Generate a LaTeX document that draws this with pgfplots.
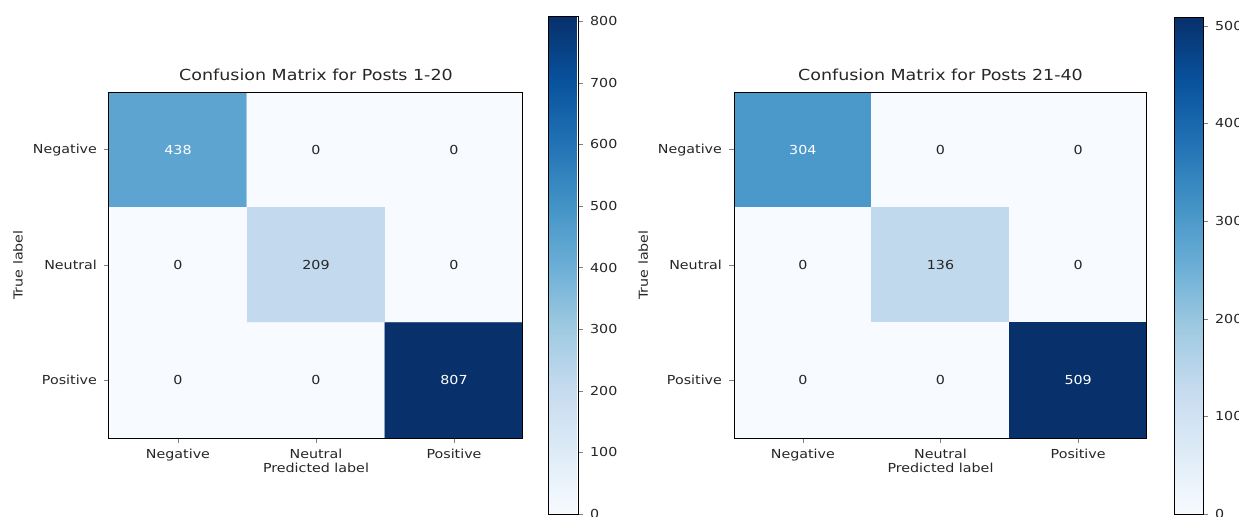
\documentclass[border=0pt]{standalone}
\usepackage{pgfplots}
\pgfplotsset{compat=1.18}
\usepackage{fontspec}
\setmainfont{DejaVu Sans}[FakeStretch=1.15]
\newcommand{\tickfont}{\fontsize{6.2}{7}\selectfont}
\newcommand{\titlefont}{\fontsize{7.6}{8.5}\selectfont}
\pgfplotsset{
  cmstyle/.style={
    scale only axis, width=207pt, height=173pt,
    xmin=-0.5, xmax=2.5, ymin=-0.5, ymax=2.5, y dir=reverse,
    enlargelimits=false, axis on top,
    xtick={0,1,2}, ytick={0,1,2},
    xticklabels={Negative,Neutral,Positive},
    yticklabels={Negative,Neutral,Positive},
    tick align=outside, tick pos=left, major tick length=2.5pt,
    tick label style={font=\tickfont, text=black!85},
    xticklabel style={yshift=0.5pt},
    /pgf/number format/assume math mode=true,
    xlabel={Predicted label}, ylabel={True label},
    label style={font=\tickfont, text=black!85},
    xlabel style={at={(axis description cs:0.5,-0.087)}, anchor=center},
    ylabel style={at={(axis description cs:-0.22,0.5)}, anchor=center},
    title style={font=\titlefont, text=black!85, at={(axis description cs:0.5,1)}, anchor=south, yshift=-4pt},
    axis line style={black, line width=0.5pt},
    colormap={blues}{rgb255=(247,251,255) rgb255=(222,235,247) rgb255=(198,219,239) rgb255=(158,202,225) rgb255=(107,174,214) rgb255=(66,146,198) rgb255=(33,113,181) rgb255=(8,81,156) rgb255=(8,48,107)},
    colorbar,
  },
  cbstyle/.style={
    at={(parent axis.south east)}, anchor=south west,
    xshift=#1, yshift=-38pt,
    scale only axis, height=248.5pt,
    ytick pos=right, yticklabel pos=right,
    tick align=outside, major tick length=2.5pt,
    yticklabel style={font=\tickfont, text=black!85},
    /pgf/number format/assume math mode=true,
    axis line style={black, line width=0.5pt},
  },
  celltxt/.style={draw=none, mark=none, nodes near coords, point meta=explicit symbolic,
    nodes near coords align=center,
    every node near coord/.append style={font=\tickfont, text=#1, anchor=center}},
}
\begin{document}
\begin{tikzpicture}
\useasboundingbox (0,0) rectangle (619.5pt,258pt);
% Left matrix
\begin{axis}[cmstyle, at={(54.5pt,39pt)}, anchor=south west,
  title={Confusion Matrix for Posts 1-20},
  point meta min=0, point meta max=807,
  colorbar style={cbstyle=4pt, width=15pt, ytick={0,100,...,800}}]
\addplot[matrix plot*, mesh/cols=3, point meta=explicit] table[meta=C] {
x y C
0 0 438
1 0 0
2 0 0
0 1 0
1 1 209
2 1 0
0 2 0
1 2 0
2 2 807
};
\addplot[celltxt=white] table[meta=L] {
x y L
0 0 438
2 2 807
};
\addplot[celltxt=black!85] table[meta=L] {
x y L
1 0 0
2 0 0
0 1 0
1 1 209
2 1 0
0 2 0
1 2 0
};
\end{axis}
% Right matrix
\begin{axis}[cmstyle, at={(367pt,39pt)}, anchor=south west, width=206.5pt,
  title={Confusion Matrix for Posts 21-40},
  point meta min=0, point meta max=509,
  colorbar style={cbstyle=5pt, width=14.5pt, ytick={0,100,...,500}}]
\addplot[matrix plot*, mesh/cols=3, point meta=explicit] table[meta=C] {
x y C
0 0 304
1 0 0
2 0 0
0 1 0
1 1 136
2 1 0
0 2 0
1 2 0
2 2 509
};
\addplot[celltxt=white] table[meta=L] {
x y L
0 0 304
2 2 509
};
\addplot[celltxt=black!85] table[meta=L] {
x y L
1 0 0
2 0 0
0 1 0
1 1 136
2 1 0
0 2 0
1 2 0
};
\end{axis}
\end{tikzpicture}
\end{document}
